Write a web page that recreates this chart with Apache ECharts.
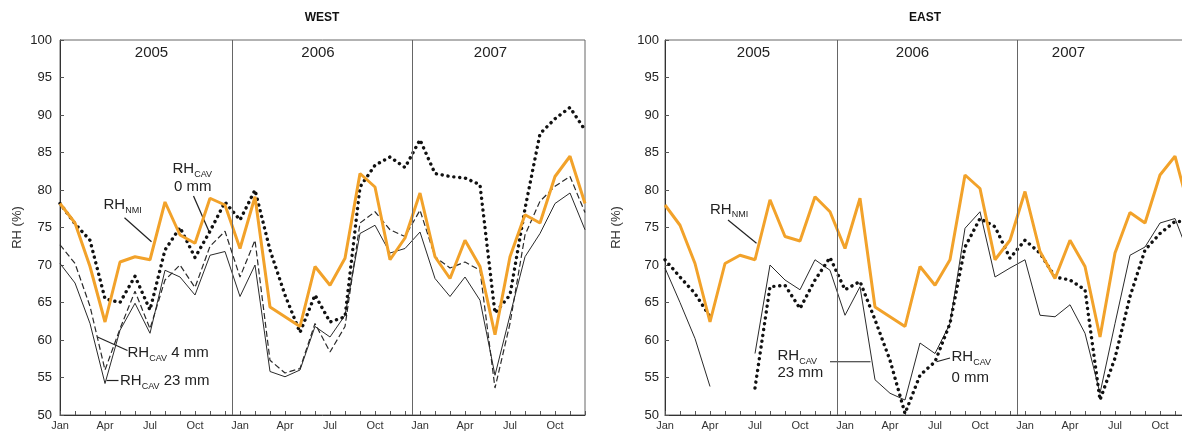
<!DOCTYPE html>
<html>
<head>
<meta charset="utf-8">
<script src="https://cdn.jsdelivr.net/npm/echarts@6/dist/echarts.min.js"></script>
<style>
  html, body { margin: 0; padding: 0; background: #fff; }
  #main { width: 1182px; height: 435px; }
</style>
</head>
<body>
<div id="main"></div>
<script>
// months Jan 2005 .. Dec 2007 (index 0..35)
const monthLabels = ['Jan', 'Apr', 'Jul', 'Oct'];
const years = ['2005', '2006', '2007'];

// WEST
const westNmi = [78.2, 75.6, 69.8, 62.4, 70.4, 71.1, 70.7, 78.4, 74.0, 72.9, 78.9, 78.0,
                 72.2, 79.1, 64.4, 63.1, 61.8, 69.8, 67.3, 70.9, 82.2, 80.4, 70.7, 73.6,
                 79.6, 71.1, 68.2, 73.3, 69.8, 60.7, 71.1, 76.7, 75.6, 81.8, 84.5, 78.2];
const westCav0 = [78.2, 75.5, 73.3, 65.5, 65.0, 68.5, 64.0, 72.0, 75.0, 71.0, 74.5, 78.4,
                  76.0, 80.0, 72.0, 66.0, 61.0, 66.0, 62.4, 63.1, 80.4, 83.3, 84.4, 83.0,
                  86.7, 82.2, 81.8, 81.6, 80.7, 63.6, 66.0, 77.5, 87.5, 89.5, 91.0, 88.0];
const westCav4 = [72.7, 70.2, 64.5, 56.0, 61.5, 66.5, 61.5, 68.0, 70.0, 67.0, 72.5, 74.5,
                  68.4, 73.3, 57.3, 55.6, 56.2, 62.2, 58.4, 61.8, 75.6, 77.1, 74.7, 73.8,
                  77.3, 71.1, 69.6, 70.4, 69.3, 53.6, 62.2, 74.0, 78.5, 80.5, 81.8, 77.0];
const westCav23 = [70.2, 67.6, 62.2, 54.2, 61.3, 64.9, 60.9, 69.3, 68.4, 66.0, 71.3, 71.8,
                   65.8, 70.0, 55.8, 55.1, 56.0, 61.8, 60.4, 63.3, 74.2, 75.3, 71.6, 72.2,
                   74.4, 68.2, 65.8, 68.4, 65.3, 55.3, 63.3, 71.1, 74.2, 78.2, 79.6, 74.7];

// EAST
const eastNmi = [78.0, 75.3, 70.2, 62.4, 70.2, 71.3, 70.7, 78.7, 73.8, 73.2, 79.1, 77.1,
                 72.2, 78.9, 64.4, 63.1, 61.8, 69.8, 67.3, 70.7, 82.0, 80.2, 70.7, 73.3,
                 79.8, 71.8, 68.2, 73.3, 69.8, 60.4, 71.6, 77.0, 75.6, 82.0, 84.5, 77.0];
const eastCav0 = [70.7, 68.4, 66.2, 63.1, null, null, 53.6, 67.1, 67.3, 64.2, 68.0, 71.0,
                  66.7, 67.8, 62.7, 57.3, 50.2, 55.3, 57.1, 62.2, 72.4, 76.2, 75.1, 70.9,
                  73.3, 71.6, 68.4, 68.0, 66.7, 52.0, 57.6, 65.8, 72.0, 74.2, 75.8, 75.8];
const eastCav23 = [69.6, 65.0, 60.2, 53.8, null, null, 58.2, 70.0, 68.0, 66.7, 70.7, 69.3,
                   63.3, 67.1, 54.7, 52.9, 52.0, 59.6, 58.2, 62.2, 74.9, 77.1, 68.4, 69.6,
                   70.7, 63.3, 63.1, 64.7, 60.9, 52.9, 62.2, 71.3, 72.4, 75.6, 76.2, 71.0];

const FONT = 'Liberation Sans, Arial, sans-serif';
const ORANGE = '#f2a22a';

function pairs(arr) {
  return arr.map((v, i) => [i, v]);
}

function xAxisFor(g) {
  return {
    type: 'value', gridIndex: g, min: 0, max: 35, interval: 1,
    axisLine: { show: true, lineStyle: { color: '#333', width: 1 } },
    axisTick: { show: true, inside: true, length: 4, lineStyle: { color: '#555' } },
    splitLine: { show: false },
    axisLabel: {
      color: '#333', fontSize: 11, fontFamily: FONT, margin: 5,
      formatter: v => (v % 3 === 0 ? monthLabels[(v % 12) / 3] : '')
    }
  };
}

function yAxisFor(g, margin, gap) {
  return {
    type: 'value', gridIndex: g, min: 50, max: 100, interval: 5,
    name: 'RH (%)', nameLocation: 'middle', nameGap: gap, nameRotate: 90,
    nameTextStyle: { color: '#333', fontSize: 13, fontFamily: FONT },
    axisLine: { show: true, lineStyle: { color: '#333', width: 1 } },
    axisTick: { show: true, inside: true, length: 4, lineStyle: { color: '#555' } },
    splitLine: { show: false },
    axisLabel: { color: '#222', fontSize: 13, fontFamily: FONT, margin: margin }
  };
}

const dividers = {
  silent: true, symbol: 'none', label: { show: false },
  lineStyle: { color: '#666', width: 1, type: 'solid' },
  data: [{ xAxis: 11.5 }, { xAxis: 23.5 }]
};

function line(g, data, style, extra) {
  return Object.assign({
    type: 'line', xAxisIndex: g, yAxisIndex: g, data: pairs(data),
    showSymbol: false, symbol: 'none', silent: true, animation: false,
    connectNulls: false, lineStyle: style
  }, extra || {});
}

const solidStyle = { color: '#2a2a2a', width: 1 };
const dashStyle = { color: '#2a2a2a', width: 1.2, type: [6, 3] };
const dotStyle = { color: '#111', width: 3.4, type: [0.1, 5.8], cap: 'round' };
const nmiStyle = { color: ORANGE, width: 3 };

const chart = echarts.init(document.getElementById('main'));
chart.setOption({
  backgroundColor: '#fff',
  animation: false,
  grid: [
    { left: 60, top: 40, width: 525, height: 375, show: true, borderColor: '#666', borderWidth: 1,
      containLabel: false, outerBoundsMode: 'none' },
    { left: 665, top: 40, width: 525, height: 375, show: true, borderColor: '#666', borderWidth: 1,
      containLabel: false, outerBoundsMode: 'none' }
  ],
  xAxis: [xAxisFor(0), xAxisFor(1)],
  yAxis: [yAxisFor(0, 8, 36), yAxisFor(1, 6, 42)],
  series: [
    line(0, westCav23, solidStyle, { markLine: dividers }),
    line(0, westCav4, dashStyle),
    line(0, westCav0, dotStyle),
    line(0, westNmi, nmiStyle),
    line(1, eastCav23, solidStyle, { markLine: dividers }),
    line(1, eastCav0, dotStyle),
    line(1, eastNmi, nmiStyle)
  ]
});

// annotations (positions in data units of each panel)
const rich = {
  m: { fontSize: 15, lineHeight: 20, fontFamily: FONT, fill: '#222', color: '#222' },
  s: { fontSize: 9, lineHeight: 10, verticalAlign: 'bottom', fontFamily: FONT, fill: '#222', color: '#222' }
};
const labels = [
  // grid, x, y, text
  [0, 2.9, 78.0, '{m|RH}{s|NMI}'],
  [0, 7.5, 82.8, '{m|RH}{s|CAV}'],
  [0, 7.6, 80.4, '{m|0 mm}'],
  [0, 4.5, 58.3, '{m|RH}{s|CAV}{m| 4 mm}'],
  [0, 4.0, 54.5, '{m|RH}{s|CAV}{m| 23 mm}'],
  [1, 3.0, 77.4, '{m|RH}{s|NMI}'],
  [1, 7.5, 57.9, '{m|RH}{s|CAV}'],
  [1, 7.5, 55.6, '{m|23 mm}'],
  [1, 19.1, 57.7, '{m|RH}{s|CAV}'],
  [1, 19.1, 55.0, '{m|0 mm}']
];
const leaders = [
  [0, 4.3, 76.3, 6.1, 73.1],
  [0, 8.9, 79.2, 9.95, 74.4],
  [0, 2.5, 60.4, 4.5, 58.6],
  [0, 3.1, 54.6, 3.9, 54.6],
  [1, 4.2, 76.0, 6.1, 72.9],
  [1, 11.0, 57.1, 13.7, 57.1],
  [1, 18.1, 57.1, 19.0, 57.6]
];
const yearPos = [[0, 6.1], [0, 17.2], [0, 28.7], [1, 5.9], [1, 16.5], [1, 26.9]];

const graphics = [];
[['WEST', 322], ['EAST', 925]].forEach(t => {
  graphics.push({
    type: 'text', x: t[1], y: 18,
    style: { text: t[0], font: 'bold 12px ' + FONT, fill: '#111', align: 'center', verticalAlign: 'middle' }
  });
});
yearPos.forEach((p, k) => {
  const px = chart.convertToPixel({ gridIndex: p[0] }, [p[1], 98.3]);
  graphics.push({
    type: 'text', x: px[0], y: px[1],
    style: { text: years[k % 3], font: '15px ' + FONT, fill: '#222', align: 'center', verticalAlign: 'middle' }
  });
});
labels.forEach(l => {
  const px = chart.convertToPixel({ gridIndex: l[0] }, [l[1], l[2]]);
  graphics.push({
    type: 'text', x: px[0], y: px[1],
    style: { text: l[3], rich: rich, align: 'left', verticalAlign: 'middle' }
  });
});
leaders.forEach(l => {
  const a = chart.convertToPixel({ gridIndex: l[0] }, [l[1], l[2]]);
  const b = chart.convertToPixel({ gridIndex: l[0] }, [l[3], l[4]]);
  graphics.push({
    type: 'line', shape: { x1: a[0], y1: a[1], x2: b[0], y2: b[1] },
    style: { stroke: '#222', lineWidth: 1.2 }
  });
});
chart.setOption({ graphic: graphics });
</script>
</body>
</html>
